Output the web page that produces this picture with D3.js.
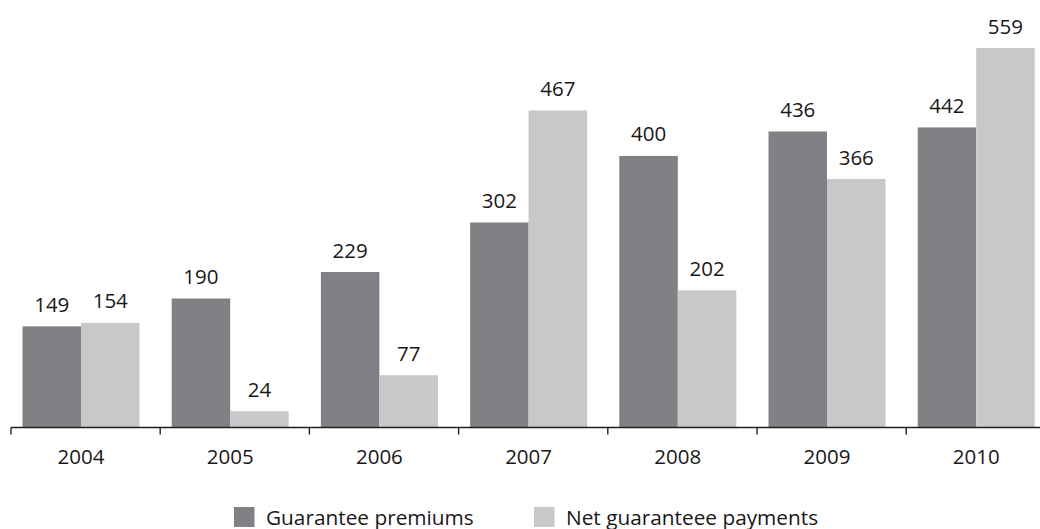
<!DOCTYPE html>
<html>
<head>
<meta charset="utf-8">
<script src="https://cdn.jsdelivr.net/npm/d3@7"></script>
<style>
  html, body { margin: 0; padding: 0; background: #fff; }
  svg { display: block; }
  text { font-family: "Open Sans", "DejaVu Sans", sans-serif; fill: #1a1718; }
</style>
</head>
<body>
<svg id="chart" width="1040" height="529"></svg>
<script>
// Guarantee premiums vs. net guarantee payments per year
const years = ["2004", "2005", "2006", "2007", "2008", "2009", "2010"];
const premiums = [149, 190, 229, 302, 400, 436, 442];
const payments = [154, 24, 77, 467, 202, 366, 559];
const seriesNames = ["Guarantee premiums", "Net guaranteee payments"];
const seriesColors = ["#808184", "#c7c8ca"];

const svg = d3.select("#chart");
const W = 1040;

const step = 149.2;
const x = d3.scaleBand()
  .domain(years)
  .range([11, 11 + step * years.length])
  .paddingInner(0).paddingOuter(0);

const baseY = 427.5;
const y = d3.scaleLinear().domain([0, 559]).range([baseY, 48]);

const groupOffset = 11.5;
const barW = 58.5;
const sub = d3.scaleBand().domain([0, 1]).range([groupOffset, groupOffset + 2 * barW]);

const rows = years.map((yr, i) => ({ yr, vals: [premiums[i], payments[i]] }));

const groups = svg.append("g").selectAll("g")
  .data(rows).join("g")
  .attr("transform", d => `translate(${x(d.yr)},0)`);

groups.selectAll("rect")
  .data(d => d.vals.map((v, k) => ({ v, k })))
  .join("rect")
  .attr("x", d => sub(d.k))
  .attr("width", sub.bandwidth())
  .attr("y", d => y(d.v))
  .attr("height", d => baseY - y(d.v))
  .attr("fill", d => seriesColors[d.k]);

groups.selectAll("text.val")
  .data(d => d.vals.map((v, k) => ({ v, k })))
  .join("text")
  .attr("class", "val")
  .attr("x", d => sub(d.k) + sub.bandwidth() / 2)
  .attr("y", d => y(d.v) - 14.5)
  .attr("text-anchor", "middle")
  .style("font-size", "20.5px")
  .text(d => d.v);

// x axis: baseline with ticks at category boundaries, labels under each group
const axis = svg.append("g");
axis.append("line")
  .attr("x1", 11).attr("x2", W)
  .attr("y1", baseY).attr("y2", baseY)
  .attr("stroke", "#231f20").attr("stroke-width", 1.6);
axis.selectAll("line.tick")
  .data(years.concat(["end"]))
  .join("line")
  .attr("class", "tick")
  .attr("x1", (d, i) => x.range()[0] + i * x.step())
  .attr("x2", (d, i) => x.range()[0] + i * x.step())
  .attr("y1", baseY).attr("y2", baseY + 7)
  .attr("stroke", "#231f20").attr("stroke-width", 1.4);
axis.selectAll("text")
  .data(years)
  .join("text")
  .attr("x", d => x(d) + groupOffset + barW)
  .attr("y", 464)
  .attr("text-anchor", "middle")
  .style("font-size", "20.5px")
  .text(d => d);

// legend
const legendX = [234, 534];
const legend = svg.append("g").selectAll("g")
  .data(seriesNames).join("g")
  .attr("transform", (d, i) => `translate(${legendX[i]},0)`);
legend.append("rect")
  .attr("x", 0).attr("y", 507)
  .attr("width", 20.5).attr("height", 20)
  .attr("fill", (d, i) => seriesColors[i]);
legend.append("text")
  .attr("x", 32).attr("y", 524.5)
  .style("font-size", "20.8px")
  .text(d => d);
</script>
</body>
</html>
